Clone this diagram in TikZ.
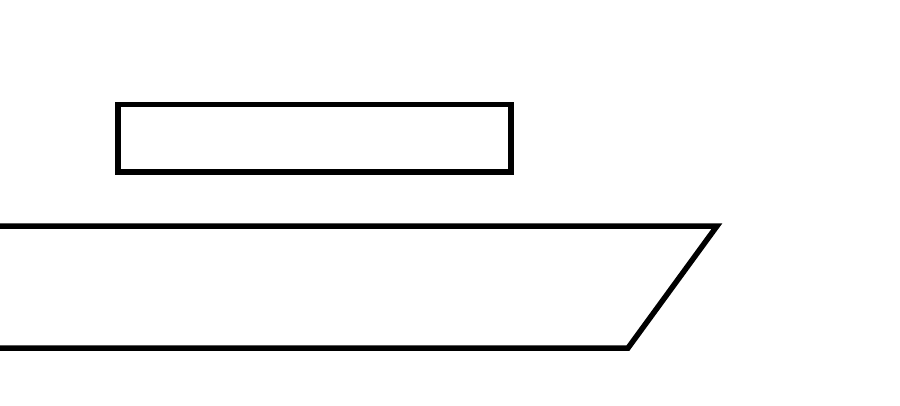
\documentclass[tikz,border=0pt]{standalone}
\begin{document}
\begin{tikzpicture}[x=1pt,y=-1pt,
  shapeline/.style={draw=black,line width=5.5pt,line join=miter}]
\useasboundingbox (0,0) rectangle (900,405);
\clip (0,0) rectangle (900,405);
\fill[white] (0,0) rectangle (900,405);
\coordinate (r1) at (118,104.5);
\coordinate (r2) at (511,172);
\draw[shapeline] (r1) rectangle (r2);
\coordinate (a) at (-20,226);
\coordinate (b) at (717,226);
\coordinate (c) at (628,348);
\coordinate (d) at (-20,348);
\draw[shapeline] (a) -- (b) -- (c) -- (d);
\end{tikzpicture}
\end{document}
